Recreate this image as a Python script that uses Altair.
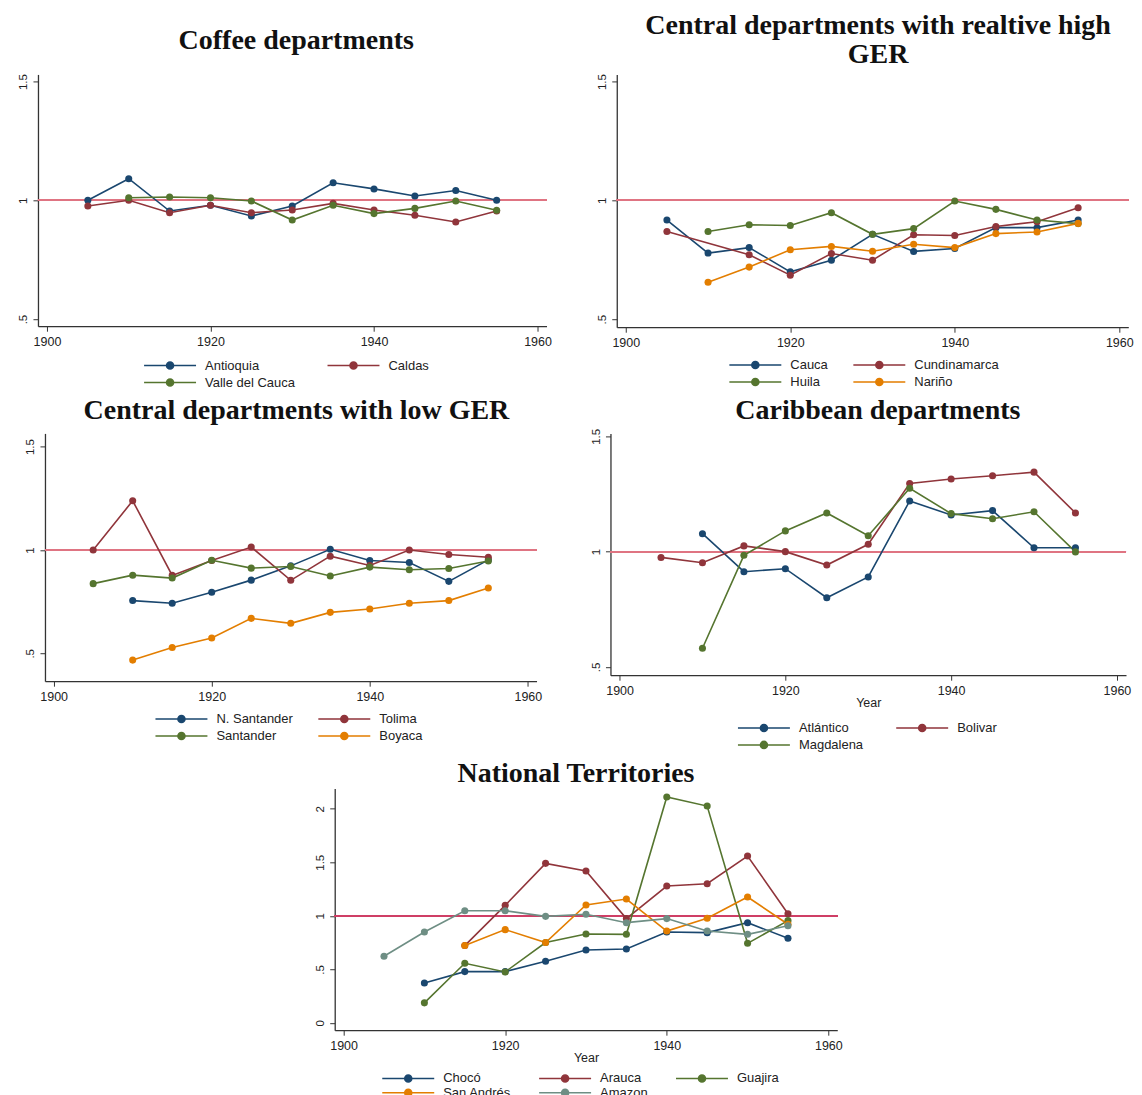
import math
import altair as alt
import pandas as pd

years = [1905, 1910, 1915, 1920, 1925, 1930, 1935, 1940, 1945, 1950, 1955]

NAVY, MAROON, GREEN, ORANGE, TEAL = "#1a476f", "#90353b", "#55752f", "#e37e00", "#6e8e84"

# Panel 1: Coffee departments
p1_names = ["Antioquia", "Caldas", "Valle del Cauca"]
p1_antioquia = [1.0, 1.091, 0.955, 0.979, 0.934, 0.976, 1.074, 1.048, 1.018, 1.041, 1.0]
p1_caldas = [0.976, 1.0, 0.948, 0.979, 0.948, 0.959, 0.987, 0.959, 0.937, 0.909, 0.955]
p1_valle = [None, 1.011, 1.014, 1.011, 0.997, 0.917, 0.979, 0.944, 0.966, 0.997, 0.958]

# Panel 2: Central departments with relatively high GER
p2_names = ["Cauca", "Cundinamarca", "Huila", "Nariño"]
p2_cauca = [0.917, 0.778, 0.801, 0.699, 0.748, 0.857, 0.785, 0.797, 0.885, 0.885, 0.917]
p2_cundinamarca = [0.869, None, 0.771, 0.685, 0.776, 0.748, 0.855, 0.852, 0.89, 0.91, 0.969]
p2_huila = [None, 0.869, 0.897, 0.894, 0.948, 0.857, 0.881, 0.997, 0.962, 0.917, 0.902]
p2_narino = [None, 0.655, 0.719, 0.792, 0.806, 0.786, 0.815, 0.801, 0.86, 0.867, 0.903]

# Panel 3: Central departments with low GER
p3_names = ["N. Santander", "Tolima", "Santander", "Boyaca"]
p3_nsantander = [None, 0.755, 0.742, 0.795, 0.854, 0.923, 1.003, 0.949, 0.939, 0.848, 0.952]
p3_tolima = [1.0, 1.238, 0.877, 0.949, 1.014, 0.853, 0.97, 0.925, 1.0, 0.978, 0.965]
p3_santander = [0.837, 0.878, 0.864, 0.95, 0.912, 0.92, 0.874, 0.917, 0.904, 0.91, 0.947]
p3_boyaca = [None, 0.467, 0.528, 0.574, 0.669, 0.645, 0.698, 0.714, 0.742, 0.755, 0.816]

# Panel 4: Caribbean departments
p4_names = ["Atlántico", "Bolivar", "Magdalena"]
p4_atlantico = [None, 1.078, 0.913, 0.926, 0.8, 0.89, 1.22, 1.159, 1.178, 1.017, 1.017]
p4_bolivar = [0.975, 0.952, 1.025, 1.0, 0.942, 1.032, 1.296, 1.315, 1.329, 1.345, 1.168]
p4_magdalena = [None, 0.581, 0.984, 1.09, 1.168, 1.069, 1.275, 1.165, 1.143, 1.173, 0.999]

# Panel 5: National Territories
p5_names = ["Chocó", "Arauca", "Guajira", "San Andrés", "Amazon"]
p5_choco = [None, 0.373, 0.479, 0.479, 0.575, 0.681, 0.69, 0.849, 0.843, 0.936, 0.79]
p5_arauca = [None, None, 0.722, 1.098, 1.49, 1.418, 0.974, 1.278, 1.3, 1.558, 1.02]
p5_guajira = [None, 0.187, 0.557, 0.476, 0.75, 0.83, 0.827, 2.109, 2.025, 0.743, 0.955]
p5_sanandres = [None, None, 0.722, 0.871, 0.75, 1.101, 1.157, 0.858, 0.977, 1.176, 0.921]
p5_amazon = [0.622, 0.849, 1.048, 1.048, 0.995, 1.014, 0.936, 0.974, 0.858, 0.827, 0.908]

x_ticks = [1900, 1920, 1940, 1960]

SYMBOL = "M-1,0H1M0.135,0A0.135,0.135,0,1,1,-0.135,0A0.135,0.135,0,1,1,0.135,0Z"
SANS = "Liberation Sans"
SERIF = "Liberation Serif"


def colmajor(items, ncols):
    # legend entries are filled column by column; reorder so they read row by row
    n = len(items)
    nrows = math.ceil(n / ncols)
    out = [None] * n
    for i, it in enumerate(items):
        r, c = divmod(i, ncols)
        out[c * nrows + r] = it
    return out


def panel(names, series, colors, title, subtitle, t_offset, t_dx, width, height, ydom, yvals,
          lx, ly, colpad, ncols, rowpad, cliph, hcolor, hwidth, year_title):
    rows = []
    for n, s in zip(names, series):
        for yr, v in zip(years, s):
            if v is not None:
                rows.append({"year": yr, "value": v, "dept": n})
    df = pd.DataFrame(rows)

    cmap = dict(zip(names, colors))
    dom = colmajor(names, ncols)
    rng = [cmap[d] for d in dom]

    xscale = alt.Scale(domain=[1898.9, 1961.1], nice=False, zero=False)
    yscale = alt.Scale(domain=ydom, nice=False, zero=False)
    xaxis_kw = dict(values=x_ticks, format="d", grid=False, tickSize=5, labelPadding=4,
                    domainColor="#333", tickColor="#333", domainWidth=1.3, labelFlush=False,
                    labelFont=SANS, labelFontSize=12.5, labelColor="#222",
                    titleFont=SANS, titleFontSize=12.5, titleFontWeight="normal",
                    titleColor="#222", titlePadding=0.1)
    if year_title:
        xaxis = alt.Axis(title="Year", **xaxis_kw)
    else:
        xaxis = alt.Axis(title=None, **xaxis_kw)
    yaxis = alt.Axis(values=yvals, format="~g",
                     labelExpr="datum.value == 0.5 ? '.5' : datum.label",
                     labelAngle=270, labelAlign="center", labelBaseline="bottom",
                     grid=False, tickSize=5, labelPadding=4, domainColor="#333",
                     tickColor="#333", domainWidth=1.3, labelFont=SANS, labelFontSize=11.5,
                     labelColor="#222", title=None)
    cscale = alt.Scale(domain=dom, range=rng)
    legend = alt.Legend(orient="none", legendX=lx, legendY=ly, columns=ncols, title=None,
                        symbolType=SYMBOL, symbolSize=2704, symbolStrokeWidth=1.6,
                        labelFont=SANS, labelFontSize=13, labelColor="#222", labelOffset=8,
                        columnPadding=colpad, rowPadding=rowpad, clipHeight=cliph)

    base = alt.Chart(df)
    hline = base.mark_rule(color=hcolor, strokeWidth=hwidth).encode(y=alt.datum(1))
    line = base.mark_line(strokeWidth=1.6).encode(
        x=alt.X("year:Q", scale=xscale, axis=xaxis),
        y=alt.Y("value:Q", scale=yscale, axis=yaxis),
        color=alt.Color("dept:N", scale=cscale, legend=legend),
    )
    pts = base.mark_point(filled=True, size=50, opacity=1).encode(
        x=alt.X("year:Q", scale=xscale),
        y=alt.Y("value:Q", scale=yscale),
        color=alt.Color("dept:N", scale=cscale, legend=legend),
    )
    tkw = dict(text=title, font=SERIF, fontSize=28, fontWeight="bold", color="#111",
               offset=t_offset, dx=t_dx, anchor="middle", frame="group")
    if subtitle:
        tkw.update(subtitle=subtitle, subtitleFont=SERIF, subtitleFontSize=28,
                   subtitleFontWeight="bold", subtitleColor="#111", subtitlePadding=0.5)
    return alt.layer(hline, line, pts).properties(
        width=width, height=height, title=alt.TitleParams(**tkw))


def spacer(w):
    return alt.Chart(pd.DataFrame({"v": [0]})).mark_point(opacity=0).encode(
        x=alt.value(0), y=alt.value(0)).properties(width=w, height=1)


PINK = "#df7482"
c1 = panel(p1_names, [p1_antioquia, p1_caldas, p1_valle], [NAVY, MAROON, GREEN],
           "Coffee departments", None, 19, 4, 509, 252, [0.47, 1.53], [0.5, 1, 1.5],
           105.2, 284.4, 30.6, 2, 3, 14, PINK, 1.5, False)
c2 = panel(p2_names, [p2_cauca, p2_cundinamarca, p2_huila, p2_narino],
           [NAVY, MAROON, GREEN, ORANGE],
           "Central departments with realtive high", "GER", 5, 5.6, 512, 253,
           [0.466, 1.53], [0.5, 1, 1.5], 111.7, 283.9, 24.1, 2, 3, 14, PINK, 1.5, False)
c3 = panel(p3_names, [p3_nsantander, p3_tolima, p3_santander, p3_boyaca],
           [NAVY, MAROON, GREEN, ORANGE],
           "Central departments with low GER", None, 8, 5.7, 492, 248,
           [0.365, 1.564], [0.5, 1, 1.5], 109.6, 278.9, 24, 2, 3, 14, PINK, 1.5, False)
c4 = panel(p4_names, [p4_atlantico, p4_bolivar, p4_magdalena], [NAVY, MAROON, GREEN],
           "Caribbean departments", None, 3, 9.7, 516, 242,
           [0.464, 1.513], [0.5, 1, 1.5], 126.6, 287.8, 31.4, 2, 3, 14, PINK, 1.5, True)
c5 = panel(p5_names, [p5_choco, p5_arauca, p5_guajira, p5_sanandres, p5_amazon],
           [NAVY, MAROON, GREEN, ORANGE, TEAL],
           "National Territories", None, 0.5, -10, 503, 242,
           [-0.068, 2.19], [0, 0.5, 1, 1.5, 2], 46.6, 284.6, 27, 3, 0.5, 11, "#cf3f66", 1.7, True)

row1 = alt.hconcat(spacer(0.1), alt.hconcat(c1, c2, spacing=43.3).resolve_scale(color="independent"),
                   spacing=1).resolve_scale(color="independent")
row2 = alt.hconcat(spacer(10), alt.hconcat(c3, c4, spacing=47).resolve_scale(color="independent"),
                   spacing=1).resolve_scale(color="independent")
row3 = alt.hconcat(spacer(300.2), c5, spacing=1).resolve_scale(color="independent")

chart = alt.vconcat(row1, row2, row3, spacing=6.3).resolve_scale(
    color="independent"
).properties(
    padding={"left": 0, "top": 3, "right": 0, "bottom": 0},
    background="white",
).configure_view(stroke="transparent")

chart.save("out.html", embed_options={"renderer": "svg", "actions": False})
